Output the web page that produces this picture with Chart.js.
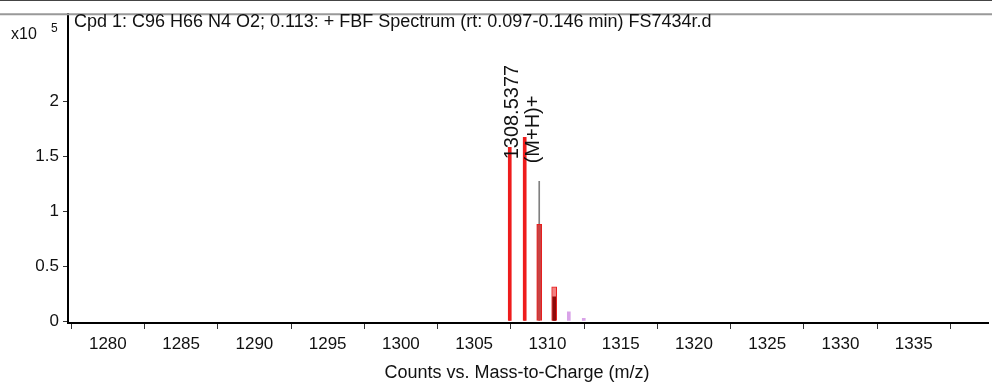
<!DOCTYPE html>
<html>
<head>
<meta charset="utf-8">
<script src="https://cdn.jsdelivr.net/npm/chart.js@4.4.1/dist/chart.umd.min.js"></script>
<style>
  html, body { margin: 0; padding: 0; background: #fff; }
  canvas { display: block; }
</style>
</head>
<body>
<canvas id="myChart" width="992" height="383"></canvas>
<script>
// spectrum data (x10^5 counts)
const measuredMz = [1307.43, 1308.45, 1309.44, 1310.46];
const measuredCounts = [1.58, 1.67, 1.27, 0.22];

const matchedMz = [1307.43, 1308.45];
const matchedCounts = [1.58, 1.67];

const boxMz = [1309.44, 1310.46];
const boxCounts = [0.88, 0.31];

const innerMz = [1310.46];
const innerCounts = [0.22];

const minorMz = [1311.46, 1312.48];
const minorCounts = [0.084, 0.025];

const xTicks = [1280, 1285, 1290, 1295, 1300, 1305, 1310, 1315, 1320, 1325, 1330, 1335, 1340];
const yTicks = [0, 0.5, 1, 1.5, 2];

const titleText = "Cpd 1: C96 H66 N4 O2; 0.113: + FBF Spectrum (rt: 0.097-0.146 min) FS7434r.d";
const xTitleText = "Counts vs. Mass-to-Charge (m/z)";
const peakLabelMz = 1308.45;
const peakLabelCounts = 1.67;
const peakLabelLines = ["1308.5377", "(M+H)+"];

const FONT = "'Liberation Sans', Arial, sans-serif";

function points(xs, ys) {
  return xs.map((x, i) => ({ x: x, y: ys[i] }));
}

const decorPlugin = {
  id: "decor",
  afterDraw(chart) {
    const ctx = chart.ctx;
    const area = chart.chartArea;
    const xScale = chart.scales.x;
    const yScale = chart.scales.y;
    ctx.save();

    // outer frame top + plot top line
    ctx.strokeStyle = "#444";
    ctx.lineWidth = 1;
    ctx.beginPath();
    ctx.moveTo(0, 0.5);
    ctx.lineTo(chart.width, 0.5);
    ctx.stroke();
    ctx.strokeStyle = "#999";
    ctx.lineWidth = 2;
    ctx.beginPath();
    ctx.moveTo(0, area.top);
    ctx.lineTo(chart.width, area.top);
    ctx.stroke();

    // title inside the plot
    ctx.fillStyle = "#111";
    ctx.font = "18px " + FONT;
    ctx.textBaseline = "middle";
    ctx.textAlign = "left";
    ctx.fillText(titleText, area.left + 6, 22);

    // x10^5
    ctx.font = "16px " + FONT;
    ctx.fillText("x10", 11, 35);
    ctx.font = "12px " + FONT;
    ctx.fillText("5", 51, 29);

    // axis title (sits a little left of the axis centre in the original)
    ctx.font = "18px " + FONT;
    ctx.textAlign = "center";
    ctx.fillText(xTitleText, (area.left + area.right) / 2 - 11, 373);

    // peak annotation
    const px = xScale.getPixelForValue(peakLabelMz);
    const py = yScale.getPixelForValue(peakLabelCounts);
    ctx.font = "20px " + FONT;
    ctx.fillStyle = "#111";
    peakLabelLines.forEach((line, i) => {
      ctx.save();
      ctx.translate(px - 12 + i * 21, py + 22 + i * 4);
      ctx.rotate(-Math.PI / 2);
      ctx.textAlign = "left";
      ctx.textBaseline = "middle";
      ctx.fillText(line, 0, 0);
      ctx.restore();
    });

    ctx.restore();
  },
};

new Chart(document.getElementById("myChart").getContext("2d"), {
  type: "bar",
  data: {
    datasets: [
      {
        label: "inner",
        data: points(innerMz, innerCounts),
        backgroundColor: "#8e0a0a",
        barThickness: 3,
        order: 1,
      },
      {
        label: "matched",
        data: points(matchedMz, matchedCounts),
        backgroundColor: "#ee1c1c",
        barThickness: 3,
        order: 2,
      },
      {
        label: "predicted",
        data: points(boxMz, boxCounts),
        backgroundColor: ["#c94343", "#f28080"],
        borderColor: "#e81e1e",
        borderWidth: 1,
        borderSkipped: false,
        barThickness: 5,
        order: 3,
      },
      {
        label: "measured",
        data: points(measuredMz, measuredCounts),
        backgroundColor: "#808080",
        barThickness: 1,
        order: 4,
      },
      {
        label: "minor",
        data: points(minorMz, minorCounts),
        backgroundColor: "#d9a3e8",
        barThickness: 3,
        order: 5,
      },
    ],
  },
  options: {
    responsive: false,
    animation: false,
    layout: { padding: { top: 13, right: 0, left: 0, bottom: 0 } },
    plugins: {
      legend: { display: false },
      tooltip: { enabled: false },
    },
    datasets: {
      bar: { grouped: false },
    },
    scales: {
      x: {
        type: "linear",
        min: 1277.28,
        max: 1340.07,
        offset: false,
        afterFit(scale) {
          scale.height = 60;
        },
        afterBuildTicks(scale) {
          scale.ticks = xTicks.map((v) => ({ value: v }));
        },
        ticks: {
          autoSkip: false,
          maxRotation: 0,
          padding: 5,
          color: "#111",
          font: { family: FONT, size: 17 },
          callback: (v) => (v === 1340 ? "" : String(v)),
        },
        grid: {
          drawOnChartArea: false,
          tickLength: 6,
          color: "#333",
        },
        border: { color: "#000", width: 2 },
      },
      y: {
        min: -0.018,
        max: 2.79,
        afterFit(scale) {
          scale.width = 68;
        },
        afterBuildTicks(scale) {
          scale.ticks = yTicks.map((v) => ({ value: v }));
        },
        ticks: {
          padding: 4,
          color: "#111",
          font: { family: FONT, size: 17 },
          callback: (v) => String(v),
        },
        grid: {
          drawOnChartArea: false,
          tickLength: 5,
          color: "#333",
        },
        border: { color: "#000", width: 2 },
      },
    },
  },
  plugins: [decorPlugin],
});
</script>
</body>
</html>
